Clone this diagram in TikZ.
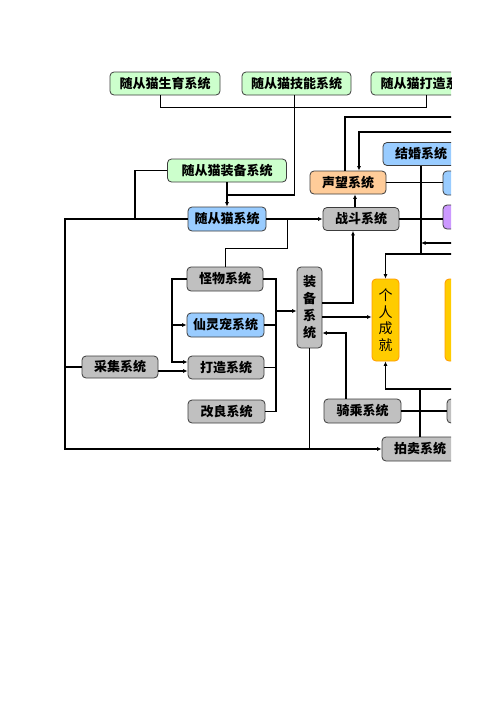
\documentclass[tikz,border=0pt]{standalone}
\usepackage{fontspec}
\usepackage{tikz}
\usetikzlibrary{arrows.meta}
\newfontfamily\cjk{Noto Sans CJK SC}
\definecolor{boxedge}{RGB}{60,60,60}
\definecolor{catgreen}{RGB}{204,255,204}
\definecolor{sysblue}{RGB}{153,204,255}
\definecolor{sysgray}{RGB}{192,192,192}
\definecolor{fameorange}{RGB}{255,204,153}
\definecolor{syspurple}{RGB}{204,153,255}
\definecolor{goldfill}{RGB}{255,204,0}
\definecolor{goldedge}{RGB}{255,153,0}

\begin{document}
\begin{tikzpicture}[x=1pt,y=-1pt,
  sysbox/.style={draw=boxedge,line width=0.8pt,rounded corners=4pt,inner sep=0pt,
    minimum height=23pt,font=\cjk\bfseries\fontsize{13pt}{15pt}\selectfont},
  greenbox/.style={sysbox,fill=catgreen},
  bluebox/.style={sysbox,fill=sysblue},
  graybox/.style={sysbox,fill=sysgray},
  orangebox/.style={sysbox,fill=fameorange},
  purplebox/.style={sysbox,fill=syspurple},
  goldbox/.style={sysbox,fill=goldfill,draw=goldedge,align=center,
    font=\cjk\fontsize{14pt}{16.5pt}\selectfont},
  bus/.style={line width=1.6pt},
  midline/.style={line width=1.1pt},
  thinline/.style={line width=0.7pt},
  tip/.style={-{Latex[length=4.5pt,width=4pt]}}]
\useasboundingbox (0,0) rectangle (496,702);
\begin{scope}
\clip (0,0) rectangle (451,702);

% companion cat systems
\node[greenbox,minimum width=110pt] (catbreed) at (165,83.5) {随从猫生育系统};
\node[greenbox,minimum width=109pt] (catskill) at (296.5,83.5) {随从猫技能系统};
\node[greenbox,minimum width=110pt] (catforge) at (426,83.5) {随从猫打造系统};
\node[greenbox,minimum width=119pt] (catgear) at (227,170.5) {随从猫装备系统};
\node[bluebox,minimum width=78pt,minimum height=24pt] (cat) at (227,219) {随从猫系统};

\node[graybox,minimum width=76pt] (fight) at (361,219) {战斗系统};
\node[orangebox,minimum width=76pt] (fame) at (348,182.5) {声望系统};
\node[bluebox,minimum width=76pt] (marry) at (421,154) {结婚系统};
\node[bluebox,minimum width=76pt,minimum height=24pt] (fameR) at (481,183) {};
\node[purplebox,minimum width=76pt,minimum height=24pt] (fightR) at (481,217) {};

\node[graybox,minimum width=76pt,minimum height=24pt] (monster) at (225,279) {怪物系统};
\node[bluebox,minimum width=77pt,minimum height=24pt] (pet) at (225.5,325) {仙灵宠系统};
\node[graybox,minimum width=76pt] (forge) at (226,367.5) {打造系统};
\node[graybox,minimum width=77pt] (improve) at (226.5,411.5) {改良系统};
\node[graybox,minimum width=76pt,minimum height=22pt] (gather) at (120,367) {采集系统};

\node[graybox,minimum width=25pt,minimum height=81pt,align=center,
  font=\cjk\bfseries\fontsize{13pt}{17pt}\selectfont] (gear) at (309.5,307.5) {装\\备\\系\\统};
\node[goldbox,minimum width=27pt,minimum height=82pt] (achieve) at (385.5,320) {个\\人\\成\\就};
\node[goldbox,minimum width=27pt,minimum height=82pt] (achieveR) at (458.5,320) {};

\node[graybox,minimum width=77pt,minimum height=24pt] (ride) at (362.5,411) {骑乘系统};
\node[graybox,minimum width=76pt,minimum height=24pt] (rideR) at (485,411) {};
\node[graybox,minimum width=76pt,minimum height=24pt] (auction) at (420,449) {拍卖系统};

% helper coordinates
\coordinate (topbar) at (0,107);
\coordinate (skilljoin) at (0,195);
\coordinate (leftx) at (65,0);
\coordinate (gearx) at (135,0);
\coordinate (catx) at (287,0);
\coordinate (monsterbar) at (0,248);
\coordinate (rbus) at (276,0);
\coordinate (lbus) at (172,0);
\coordinate (gearin) at (0,311);
\coordinate (forgetop) at (0,362);
\coordinate (forgelow) at (0,371);
\coordinate (gearup) at (0,303);
\coordinate (gearmid) at (0,317);
\coordinate (gearback) at (0,333);
\coordinate (fightx) at (353,0);
\coordinate (ridex) at (346,0);
\coordinate (famex) at (355,0);
\coordinate (fameout) at (470,117);
\coordinate (famein) at (470,132);
\coordinate (marryin) at (470,243);
\coordinate (achin) at (470,254);
\coordinate (achout) at (470,389);

% cat branch
\draw[thinline] ([xshift=-5pt]catbreed.south) |- (topbar -| catforge.south) -- (catforge.south);
\draw[bus] ([xshift=-2pt]catskill.south) |- (catgear.south |- skilljoin);
\draw[midline,tip] (catgear.south) -- (cat.north);
\draw[midline] (catgear.west) -| (gearx |- cat.west);
\draw[bus,tip] (cat.west) -| (leftx |- auction.west) -- (auction.west);
\draw[bus,tip] (cat.east) -- (fight.west);
\draw[thinline] (monster.north) |- (catx |- monsterbar) -- (catx |- cat.east);

% gear sources
\draw[bus] (monster.east) -| (rbus |- improve.east) -- (improve.east);
\draw[bus] (pet.east) -- (rbus |- pet.east);
\draw[thinline] (forge.east) -- (rbus |- forge.east);
\draw[bus,tip] (rbus |- gearin) -- (gear.west |- gearin);
\draw[midline,tip] (monster.west) -| (lbus |- forgetop) -- (forge.west |- forgetop);
\draw[midline,tip] (lbus |- pet.west) -- (pet.west);
\draw[midline,tip] (gather.east |- forgelow) -- (forge.west |- forgelow);
\draw[bus] (gather.west) -- (leftx |- gather.west);

% gear outputs
\draw[bus,tip] (gear.east |- gearup) -| (fightx |- fight.south);
\draw[midline,tip] (gear.east |- gearmid) -- (achieve.west |- gearmid);
\draw[bus,tip] (ridex |- ride.north) |- (gear.east |- gearback);
\draw[thinline] (gear.south) -- (gear.south |- auction.west);

% fame, marriage, achievement
\draw[midline,tip] (famex |- fight.north) -- (famex |- fame.south);
\draw[bus] ([xshift=-3pt]fame.north) |- (fameout);
\draw[midline,tip] (famein) -| ([xshift=11pt]fame.north);
\draw[thinline] (fame.east) -- (fame.east -| fameR.west);
\draw[bus] (fight.east) -- (fight.east -| fightR.west);
\draw[midline] (marry.south) -- (marry.south |- achin);
\draw[midline,tip] (marryin) -- (marry.south |- marryin);
\draw[bus,tip] (achin) -| (achieve.north);
\draw[bus,tip] (achout) -| (achieve.south);
\draw[bus] (auction.north) -- (auction.north |- achout);
\draw[bus] (ride.east) -- (ride.east -| rideR.west);
\end{scope}
\end{tikzpicture}
\end{document}
